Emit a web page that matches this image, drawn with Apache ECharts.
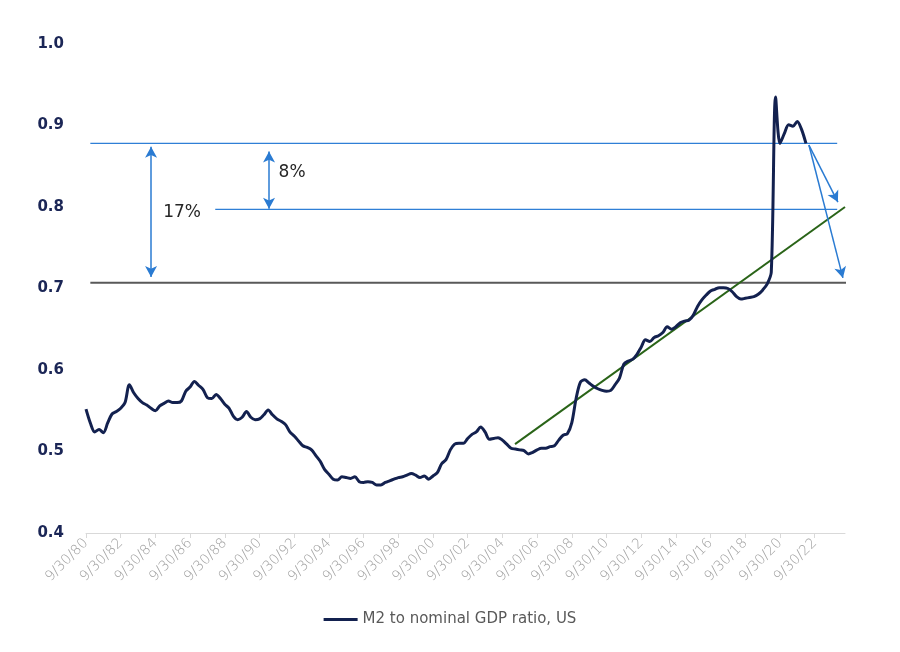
<!DOCTYPE html>
<html>
<head>
<meta charset="utf-8">
<script src="https://cdn.jsdelivr.net/npm/echarts@6/dist/echarts.min.js"></script>
<style>
  html, body { margin: 0; padding: 0; background: #fff; }
  #chart { width: 900px; height: 652px; }
</style>
</head>
<body>
<div id="chart"></div>
<script>
// quarterly M2 / nominal GDP, first point = 9/30/80
const ratio = [
  0.552, 0.535, 0.524, 0.527, 0.523, 0.535, 0.546, 0.549, 0.553, 0.560,
  0.582, 0.572, 0.565, 0.560, 0.557, 0.553, 0.550, 0.556, 0.559, 0.562,
  0.560, 0.560, 0.562, 0.574, 0.579, 0.586, 0.581, 0.576, 0.566, 0.565,
  0.570, 0.565, 0.558, 0.553, 0.543, 0.539, 0.542, 0.549, 0.542, 0.539,
  0.540, 0.545, 0.551, 0.545, 0.540, 0.537, 0.533, 0.524, 0.519, 0.513,
  0.507, 0.505, 0.502, 0.495, 0.488, 0.478, 0.472, 0.466, 0.465, 0.469,
  0.468, 0.467, 0.469, 0.463, 0.462, 0.463, 0.462, 0.459, 0.459, 0.462,
  0.464, 0.466, 0.468, 0.469, 0.471, 0.473, 0.471, 0.468, 0.470, 0.466,
  0.470, 0.474, 0.485, 0.490, 0.502, 0.509, 0.510, 0.510, 0.516, 0.521,
  0.524, 0.530, 0.524, 0.515, 0.516, 0.517, 0.514, 0.509, 0.504, 0.503,
  0.502, 0.501, 0.497, 0.499, 0.502, 0.504, 0.504, 0.506, 0.507, 0.514,
  0.520, 0.522, 0.535, 0.565, 0.585, 0.588, 0.584, 0.580, 0.577, 0.575,
  0.574, 0.575, 0.582, 0.590, 0.607, 0.611, 0.613, 0.619, 0.628, 0.637,
  0.635, 0.640, 0.642, 0.646, 0.653, 0.650, 0.653, 0.658, 0.660, 0.661,
  0.667, 0.678, 0.686, 0.692, 0.697, 0.699, 0.701, 0.701, 0.700, 0.696,
  0.690, 0.687, 0.688, 0.689, 0.690, 0.693, 0.698, 0.705, 0.720, 0.935,
  0.878, 0.890, 0.901, 0.899, 0.905, 0.895, 0.878
];

// x is years since 9/30/80
const tickYears = [0, 2, 4, 6, 8, 10, 12, 14, 16, 18, 20, 22, 24, 26, 28, 30, 32, 34, 36, 38, 40, 42];
const tickLabels = ['9/30/80', '9/30/82', '9/30/84', '9/30/86', '9/30/88', '9/30/90', '9/30/92',
  '9/30/94', '9/30/96', '9/30/98', '9/30/00', '9/30/02', '9/30/04', '9/30/06', '9/30/08',
  '9/30/10', '9/30/12', '9/30/14', '9/30/16', '9/30/18', '9/30/20', '9/30/22'];

// annotation values
const baseLevel = [[0.25, 0.707], [44.7, 0.707]];
const highLevel = [[0.25, 0.878], [43.3, 0.878]];
const midLevel = [[7.45, 0.797], [43.3, 0.797]];
const trendLine = [[24.73, 0.509], [43.75, 0.800]];
const arrow17 = [[3.75, 0.874], [3.75, 0.714]];
const arrow8 = [[10.55, 0.868], [10.55, 0.798]];
const arrowDown1 = [[41.67, 0.876], [43.34, 0.806]];
const arrowDown2 = [[41.67, 0.876], [43.63, 0.713]];
const labels = [{ text: '17%', at: [4.45, 0.793] }, { text: '8%', at: [11.1, 0.842] }];

const seriesName = 'M2 to nominal GDP ratio, US';
const lineData = ratio.map((v, i) => [i / 4, v]);

const chart = echarts.init(document.getElementById('chart'));

function plainLine(data, color, width) {
  return {
    type: 'line', data: data, symbol: 'none', clip: false, silent: true,
    lineStyle: { color: color, width: width }, z: 1
  };
}

function arrowPair(pts, symbols) {
  return [
    { coord: pts[0], symbol: symbols[0] },
    { coord: pts[1], symbol: symbols[1] }
  ];
}

const option = {
  animation: false,
  grid: { left: 86, right: 55, top: 44, bottom: 119 },
  legend: {
    bottom: 20,
    left: 'center',
    data: [seriesName],
    icon: 'rect',
    itemWidth: 34,
    itemHeight: 3,
    itemGap: 4,
    textStyle: { color: '#595959', fontSize: 15, fontFamily: 'DejaVu Sans' }
  },
  xAxis: {
    type: 'value',
    min: 0,
    max: 43.75,
    splitLine: { show: false },
    axisLine: { show: true, lineStyle: { color: '#d9d9d9' } },
    axisTick: { show: true, customValues: tickYears, length: 5, lineStyle: { color: '#d9d9d9' } },
    axisLabel: {
      customValues: tickYears,
      rotate: 45,
      color: '#a0a0a0',
      fontSize: 14,
      fontFamily: 'DejaVu Sans',
      fontWeight: 'lighter',
      margin: 8,
      formatter: v => tickLabels[tickYears.indexOf(Math.round(v))] || ''
    }
  },
  yAxis: {
    type: 'value',
    min: 0.4,
    max: 1.0,
    interval: 0.1,
    splitLine: { show: false },
    axisLine: { show: false },
    axisTick: { show: false },
    axisLabel: {
      color: '#1b2656',
      fontSize: 15,
      fontWeight: 'bold',
      fontFamily: 'DejaVu Sans',
      margin: 22,
      formatter: v => v.toFixed(1)
    }
  },
  series: [
    plainLine(baseLevel, '#595959', 2),
    plainLine(highLevel, '#2f7fd6', 1.2),
    plainLine(midLevel, '#2f7fd6', 1.2),
    {
      name: seriesName,
      type: 'line',
      data: lineData,
      symbol: 'none',
      smooth: 0.3,
      lineStyle: { color: '#13214f', width: 3 },
      itemStyle: { color: '#13214f' },
      z: 3
    },
    plainLine(trendLine, '#2a6418', 2),
    {
      type: 'line',
      data: [],
      silent: true,
      z: 4,
      markLine: {
        silent: true,
        symbolSize: [9, 11],
        label: { show: false },
        lineStyle: { color: '#2a7bd2', width: 1.5, type: 'solid' },
        data: [
          arrowPair(arrow17, ['arrow', 'arrow']),
          arrowPair(arrow8, ['arrow', 'arrow']),
          arrowPair(arrowDown1, ['none', 'arrow']),
          arrowPair(arrowDown2, ['none', 'arrow'])
        ]
      },
      markPoint: {
        silent: true,
        symbol: 'circle',
        symbolSize: 0,
        label: {
          show: true,
          position: 'right',
          distance: 0,
          color: '#262626',
          fontSize: 17,
          fontFamily: 'DejaVu Sans'
        },
        data: labels.map(l => ({ coord: l.at, value: l.text, label: { formatter: l.text } }))
      }
    }
  ]
};

chart.setOption(option);
window.addEventListener('resize', () => chart.resize());
</script>
</body>
</html>
